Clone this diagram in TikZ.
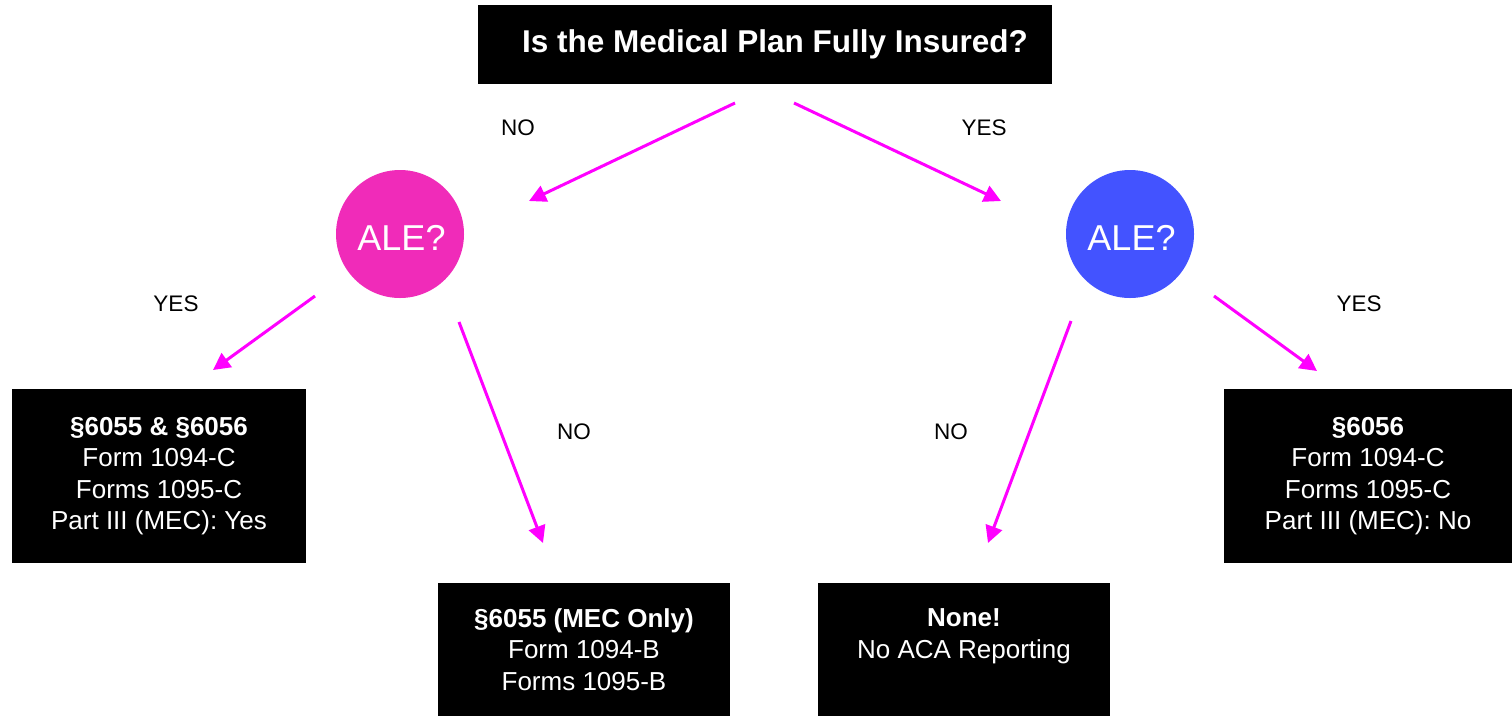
\documentclass[tikz,border=0pt]{standalone}
\usepackage{fontspec}
\setmainfont{Liberation Sans}
\usetikzlibrary{arrows.meta}
\definecolor{pinkale}{HTML}{F02BB9}
\definecolor{blueale}{HTML}{4353FF}
\definecolor{arrowmag}{HTML}{FF00FF}
\newcommand{\aletext}{\raisebox{-4pt}[\height][0pt]{\hspace*{3pt}ALE?}}
\tikzset{
  blackbox/.style={fill=black, text=white, inner sep=0pt, align=center,
    font=\fontsize{26}{31.5}\selectfont},
  alecircle/.style={circle, inner sep=0pt, minimum size=128pt, text=white,
    font=\fontsize{36}{40}\selectfont},
  lbl/.style={inner sep=0pt, font=\fontsize{22.5}{26}\selectfont},
  flowarrow/.style={draw=arrowmag, line width=3pt,
    -{Triangle[length=17pt,width=17pt]}},
}
\begin{document}
\begin{tikzpicture}[x=1pt,y=-1pt]
\useasboundingbox (0,0) rectangle (1512,716);

% nodes
\node[blackbox, minimum width=574pt, minimum height=79pt,
  font=\fontsize{31.5}{36}\selectfont\bfseries] (title) at (765,44.5)
  {\hspace*{20pt}Is the Medical Plan Fully Insured?};
\node[alecircle, fill=pinkale] (alel) at (400,234) {\aletext};
\node[alecircle, fill=blueale] (aler) at (1130,234) {\aletext};
\node[blackbox, minimum width=294pt, minimum height=174pt] (both) at (159,476)
  {\textbf{§6055 \& §6056}\\Form 1094-C\\Forms 1095-C\\Part III (MEC): Yes};
\node[blackbox, minimum width=292pt, minimum height=133pt] (mec) at (584,649.5)
  {\textbf{§6055 (MEC Only)}\\Form 1094-B\\Forms 1095-B};
\node[blackbox, minimum width=292pt, minimum height=133pt] (none) at (964,649.5)
  {\textbf{None!}\\No ACA Reporting\\\mbox{}};
\node[blackbox, minimum width=288pt, minimum height=174pt] (six) at (1368,476)
  {\textbf{§6056}\\Form 1094-C\\Forms 1095-C\\Part III (MEC): No};

% labels
\node[lbl] (lno1) at (518,128) {NO};
\node[lbl] (lyes1) at (984,128) {YES};
\node[lbl] (lyes2) at (176,304) {YES};
\node[lbl] (lno2) at (574,432) {NO};
\node[lbl] (lno3) at (951,432) {NO};
\node[lbl] (lyes3) at (1359,304) {YES};

% arrow end points
\coordinate (s1) at (735,103); \coordinate (e1) at (529,201);
\coordinate (s2) at (794,103); \coordinate (e2) at (1001,201);
\coordinate (s3) at (315,296); \coordinate (e3) at (213,370);
\coordinate (s4) at (459,322); \coordinate (e4) at (543,543);
\coordinate (s5) at (1071,321); \coordinate (e5) at (988,543);
\coordinate (s6) at (1214,296); \coordinate (e6) at (1317,371);

\draw[flowarrow] (s1) -- (e1);
\draw[flowarrow] (s2) -- (e2);
\draw[flowarrow] (s3) -- (e3);
\draw[flowarrow] (s4) -- (e4);
\draw[flowarrow] (s5) -- (e5);
\draw[flowarrow] (s6) -- (e6);
\end{tikzpicture}
\end{document}
